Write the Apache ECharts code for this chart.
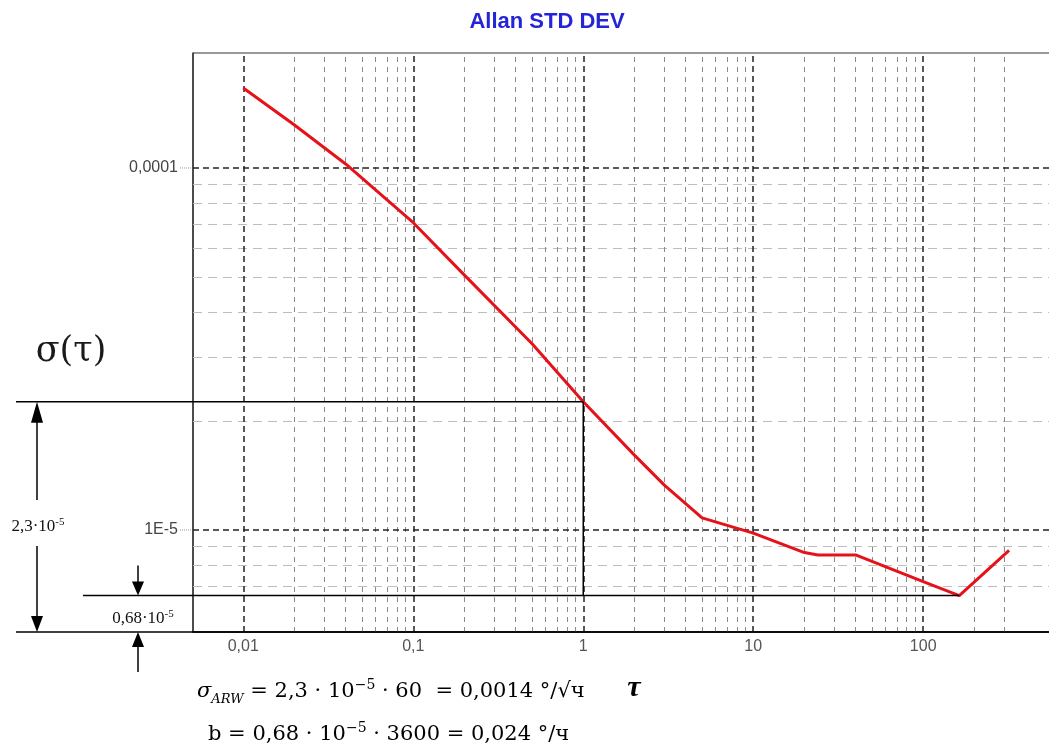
<!doctype html>
<html>
<head>
<meta charset="utf-8">
<title>Allan STD DEV</title>
<script src="https://cdn.jsdelivr.net/npm/echarts@6/dist/echarts.min.js"></script>
<style>
  html, body { margin: 0; padding: 0; background: #fff; overflow: hidden; }
  #container { width: 1100px; height: 752px; }
</style>
</head>
<body>
<div id="container"></div>
<script type="text/javascript">
// averaging time tau, s
var tauValues = [0.01, 0.02, 0.04, 0.1, 0.2, 0.5, 1, 2, 3, 5, 10, 20, 24, 40, 100, 163, 320];
// Allan deviation
var sigmaValues = [1.663e-4, 1.315e-4, 1.026e-4, 7.06e-5, 5.06e-5, 3.27e-5, 2.26e-5, 1.61e-5, 1.33e-5, 1.08e-5,
	9.8e-6, 8.66e-6, 8.53e-6, 8.53e-6, 7.2e-6, 6.59e-6, 8.78e-6];

var xMajorTicks = [0.01, 0.1, 1, 10, 100];
var xMajorLabels = ['0,01', '0,1', '1', '10', '100'];
var xMinorTicks = [0.02, 0.03, 0.04, 0.05, 0.06, 0.07, 0.08, 0.09,
	0.2, 0.3, 0.4, 0.5, 0.6, 0.7, 0.8, 0.9,
	2, 3, 4, 5, 6, 7, 8, 9,
	20, 30, 40, 50, 60, 70, 80, 90,
	200, 300];
var yMajorTicks = [0.0001, 1e-5];
var yMajorLabels = ['0,0001', '1E-5'];
var yMinorTicks = [7e-6, 8e-6, 9e-6, 2e-5, 3e-5, 4e-5, 5e-5, 6e-5, 7e-5, 8e-5, 9e-5];

var xMin = 0.00506, xMax = 596;
var yMin = 5.226e-6, yMax = 2.078e-4;

function labelFor(v, ticks, labels) {
	for (var i = 0; i < ticks.length; i++) {
		if (Math.abs(Math.log10(v) - Math.log10(ticks[i])) < 1e-6) return labels[i];
	}
	return '';
}

var curve = tauValues.map(function(t, i) { return [t, sigmaValues[i]]; });

// grid lines as markLines, each one from edge to edge of the axes
function gridSeries(name, axis, values, style) {
	return {
		name: name,
		type: 'line',
		data: curve,
		z: 1,
		silent: true,
		symbol: 'none',
		lineStyle: { opacity: 0 },
		markLine: {
			silent: true,
			symbol: ['none', 'none'],
			label: { show: false },
			lineStyle: style,
			animation: false,
			data: values.map(function(v) {
				if (axis === 'x') return [{ coord: [v, yMin] }, { coord: [v, yMax] }];
				return [{ coord: [xMin, v] }, { coord: [xMax, v] }];
			})
		}
	};
}

var chart = echarts.init(document.getElementById('container'));

var option = {
	animation: false,
	grid: {
		left: 193,
		top: 53,
		width: 862,
		height: 579,
		show: true,
		borderColor: '#333',
		borderWidth: 1,
		backgroundColor: '#fff'
	},
	xAxis: {
		type: 'log',
		logBase: 10,
		min: xMin,
		max: xMax,
		axisLine: { show: true, lineStyle: { color: '#111', width: 1.5 } },
		axisTick: { show: false },
		splitLine: { show: false },
		axisLabel: {
			margin: 7,
			color: '#555',
			fontSize: 16,
			fontFamily: 'Liberation Sans, Arial, sans-serif',
			showMinLabel: false,
			showMaxLabel: false,
			formatter: function(v) { return labelFor(v, xMajorTicks, xMajorLabels); }
		}
	},
	yAxis: {
		type: 'log',
		logBase: 10,
		min: yMin,
		max: yMax,
		axisLine: { show: true, lineStyle: { color: '#333', width: 1.5 } },
		axisTick: { show: false },
		splitLine: { show: false },
		axisLabel: {
			margin: 15,
			color: '#444',
			fontSize: 16,
			fontFamily: 'Liberation Sans, Arial, sans-serif',
			showMinLabel: false,
			showMaxLabel: false,
			formatter: function(v) { return labelFor(v, yMajorTicks, yMajorLabels); }
		}
	},
	series: [
		gridSeries('hMinor', 'y', yMinorTicks, { color: '#bdbdbd', width: 1, type: [9, 6] }),
		gridSeries('vMinor', 'x', xMinorTicks, { color: '#8a8a8a', width: 1, type: [5, 5] }),
		gridSeries('hMajor', 'y', yMajorTicks, { color: '#222', width: 1.5, type: [6, 4] }),
		gridSeries('vMajor', 'x', xMajorTicks, { color: '#222', width: 1.5, type: [6, 4] }),
		{
			name: 'Allan',
			type: 'line',
			z: 5,
			showSymbol: false,
			symbol: 'none',
			lineStyle: { color: '#e6121a', width: 3 },
			data: curve
		}
	]
};
chart.setOption(option);

// annotation overlay, positioned through the axes
var iOne = tauValues.indexOf(1);
var iMin = sigmaValues.indexOf(Math.min.apply(null, sigmaValues));
var pOne = chart.convertToPixel({ gridIndex: 0 }, [tauValues[iOne], sigmaValues[iOne]]);
var pMin = chart.convertToPixel({ gridIndex: 0 }, [tauValues[iMin], sigmaValues[iMin]]);
var pBottom = chart.convertToPixel({ gridIndex: 0 }, [xMin, yMin]);
var yb = pBottom[1];
var yLead = yMajorTicks.map(function(v) { return chart.convertToPixel({ gridIndex: 0 }, [xMin, v])[1]; });

var black = { stroke: '#000', lineWidth: 1.5 };
function seg(x1, y1, x2, y2, st) {
	return { type: 'line', z: 50, shape: { x1: x1, y1: y1, x2: x2, y2: y2 }, style: st || black };
}
function tri(pts) {
	return { type: 'polygon', z: 50, shape: { points: pts }, style: { fill: '#000' } };
}

var graphics = [
	{
		type: 'text', z: 50, x: 547, y: 22,
		style: {
			text: 'Allan STD DEV', align: 'center', verticalAlign: 'middle',
			fill: '#2424d8', font: 'bold 22px "Liberation Sans", Arial, sans-serif'
		}
	},
	seg(16, pOne[1], pOne[0], pOne[1]),
	seg(pOne[0], pOne[1], pOne[0], pMin[1]),
	seg(83, pMin[1], pMin[0], pMin[1]),
	seg(16, yb, 1049, yb),
	// double arrow 2,3e-5
	seg(37, pOne[1] + 18, 37, 500),
	seg(37, 546, 37, yb - 14),
	tri([[37, pOne[1]], [31, pOne[1] + 21], [43, pOne[1] + 21]]),
	tri([[37, yb], [31, yb - 16], [43, yb - 16]]),
	// small arrows 0,68e-5
	seg(138, pMin[1] - 30, 138, pMin[1] - 12),
	tri([[138, pMin[1]], [132, pMin[1] - 14], [144, pMin[1] - 14]]),
	tri([[138, yb], [132, yb + 15], [144, yb + 15]]),
	seg(138, yb + 14, 138, yb + 40),
	{
		type: 'text', z: 50, x: 38, y: 527,
		style: {
			text: '{a|2,3·10}{s|-5}', align: 'center', verticalAlign: 'middle',
			rich: {
				a: { fontFamily: 'Liberation Serif, serif', fontSize: 17, lineHeight: 20, fill: '#111' },
				s: { fontFamily: 'Liberation Serif, serif', fontSize: 11, lineHeight: 11, verticalAlign: 'top', fill: '#111' }
			}
		}
	},
	{
		type: 'text', z: 50, x: 143, y: 619,
		style: {
			text: '{a|0,68·10}{s|-5}', align: 'center', verticalAlign: 'middle',
			rich: {
				a: { fontFamily: 'Liberation Serif, serif', fontSize: 17, lineHeight: 20, fill: '#111' },
				s: { fontFamily: 'Liberation Serif, serif', fontSize: 11, lineHeight: 11, verticalAlign: 'top', fill: '#111' }
			}
		}
	},
	{
		type: 'text', z: 50, x: 71, y: 352,
		style: {
			text: 'σ(τ)', align: 'center', verticalAlign: 'middle',
			font: '35px "DejaVu Serif", serif', fill: '#1a1a1a'
		}
	},
	{
		type: 'text', z: 50, x: 634, y: 688,
		style: {
			text: 'τ', align: 'center', verticalAlign: 'middle',
			font: 'italic bold 30px "Liberation Serif", serif', fill: '#000'
		}
	},
	{
		type: 'text', z: 50, x: 197, y: 692,
		style: {
			text: '{i|σ}{sub|ARW}{a| = 2,3 · 10}{sup|−5}{a| · 60  = 0,0014 °/√ч}',
			align: 'left', verticalAlign: 'middle',
			rich: {
				i: { fontFamily: 'DejaVu Serif, serif', fontStyle: 'italic', fontSize: 21, lineHeight: 28, fill: '#000' },
				sub: { fontFamily: 'DejaVu Serif, serif', fontStyle: 'italic', fontSize: 13, lineHeight: 13, verticalAlign: 'bottom', fill: '#000' },
				a: { fontFamily: 'DejaVu Serif, serif', fontSize: 21, lineHeight: 28, fill: '#000' },
				sup: { fontFamily: 'DejaVu Serif, serif', fontSize: 14, lineHeight: 14, verticalAlign: 'top', fill: '#000' }
			}
		}
	},
	{
		type: 'text', z: 50, x: 208, y: 735,
		style: {
			text: '{a|b = 0,68 · 10}{sup|−5}{a| · 3600 = 0,024 °/ч}',
			align: 'left', verticalAlign: 'middle',
			rich: {
				a: { fontFamily: 'DejaVu Serif, serif', fontSize: 21, lineHeight: 28, fill: '#000' },
				sup: { fontFamily: 'DejaVu Serif, serif', fontSize: 14, lineHeight: 14, verticalAlign: 'top', fill: '#000' }
			}
		}
	}
];

// dotted leaders next to the y labels
yLead.forEach(function(y) {
	graphics.push(seg(180, y, 192, y, { stroke: '#999', lineWidth: 1, lineDash: [1, 1] }));
});

chart.setOption({ graphic: graphics });
</script>
</body>
</html>
